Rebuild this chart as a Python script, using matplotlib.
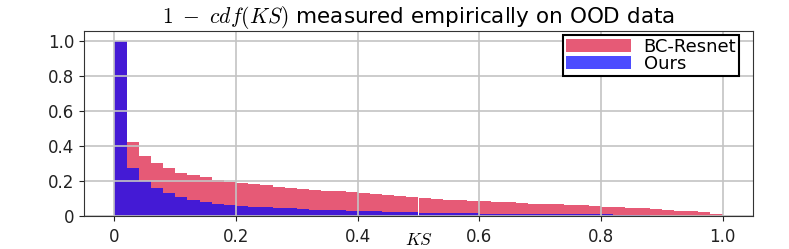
import numpy as np
import matplotlib.pyplot as plt
from matplotlib.ticker import FuncFormatter

plt.rcParams['mathtext.fontset'] = 'cm'

# 1 - cdf(KS), 50 bins of width 0.02 on [0, 1]
bin_left = np.arange(50) * 0.02
bc_resnet = [1.0, 0.42, 0.345, 0.30, 0.272, 0.248, 0.232, 0.22, 0.208, 0.196,
             0.19, 0.182, 0.175, 0.168, 0.162, 0.156, 0.150, 0.145, 0.140, 0.135,
             0.130, 0.125, 0.119, 0.113, 0.107, 0.101, 0.097, 0.093, 0.089, 0.086,
             0.083, 0.080, 0.077, 0.074, 0.071, 0.068, 0.066, 0.063, 0.060, 0.057,
             0.054, 0.050, 0.046, 0.043, 0.039, 0.035, 0.031, 0.026, 0.020, 0.013]
ours = [1.0, 0.273, 0.20, 0.162, 0.134, 0.11, 0.094, 0.082, 0.068, 0.061,
        0.056, 0.052, 0.049, 0.046, 0.043, 0.040, 0.037, 0.034, 0.032, 0.030,
        0.029, 0.027, 0.025, 0.023, 0.021, 0.019, 0.018, 0.017, 0.016, 0.015,
        0.014, 0.013, 0.012, 0.012, 0.011, 0.011, 0.011, 0.010, 0.010, 0.009,
        0.009, 0.008, 0.008, 0.007, 0.002, 0.002, 0.001, 0.001, 0.001, 0.0]
ticks = [0, 0.2, 0.4, 0.6, 0.8, 1.0]

fig = plt.figure(figsize=(7.89, 2.49), dpi=100)
ax = fig.add_axes([84 / 789, 1 - 216 / 249, (753 - 84) / 789, (216 - 31) / 249])

ax.bar(bin_left, bc_resnet, width=0.02, align='edge', color='crimson', alpha=0.7,
       label='BC-Resnet')
ax.bar(bin_left, ours, width=0.02, align='edge', color='blue', alpha=0.7,
       label='Ours')

ax.set_xlim(-0.05, 1.05)
ax.set_ylim(0, 1.055)
ax.set_xticks(ticks)
ax.set_yticks(ticks)
fmt = FuncFormatter(lambda v, p: '0' if v == 0 else f'{v:.1f}')
ax.xaxis.set_major_formatter(fmt)
ax.yaxis.set_major_formatter(fmt)
ax.tick_params(labelsize=12, colors='#222222')
ax.tick_params(axis='x', pad=5)
ax.grid(True, color='#c4c4c4', linewidth=1.2)
for s in ax.spines.values():
    s.set_color('#333333')

ax.set_xlabel('$KS$', fontsize=12.5)
ax.xaxis.set_label_coords(0.5, -0.08)
ax.set_title(r'$1\ -\ cdf(KS)$ measured empirically on OOD data', fontsize=15.5, pad=5)

leg = ax.legend(loc='upper right', bbox_to_anchor=(1 - 14 / 669, 1 - 4 / 185),
                borderaxespad=0, fontsize=13, fancybox=False, framealpha=1,
                handlelength=3.6, handletextpad=0.7, borderpad=0.15,
                labelspacing=-0.05)
leg.get_frame().set_edgecolor('black')
leg.get_frame().set_linewidth(1.5)

fig.savefig('out.png', dpi=100)
